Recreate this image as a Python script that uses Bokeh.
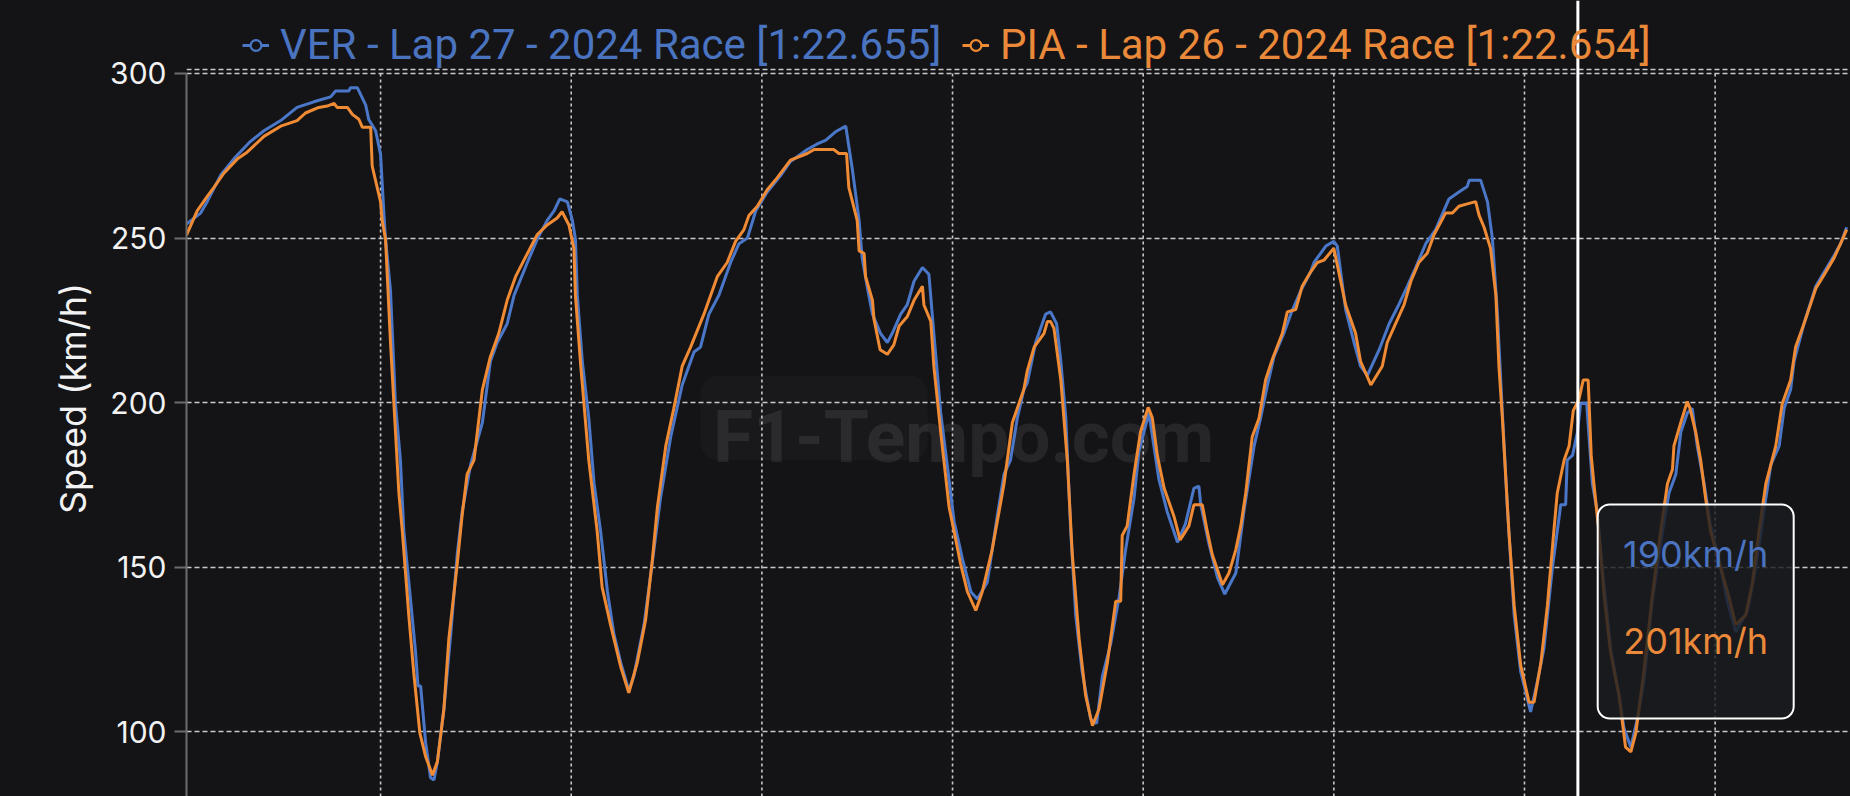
from bokeh.plotting import figure
from bokeh.models import (Range1d, FixedTicker, Span, Label, Legend, LegendItem,
                          BoxAnnotation, ColumnDataSource, Grid)
from bokeh.embed import file_html
from bokeh.resources import INLINE

# ---------------- data ----------------
ver_dist = [-9, 28, 45, 80, 120, 159, 194, 238, 281, 325, 369, 382, 417, 421, 439, 461, 469, 487, 500,
            509, 513, 526, 539, 552, 561, 579, 592, 598, 605, 618, 631, 640, 649, 666, 684, 701, 714,
            736, 767, 788, 806, 832, 850, 885, 911, 937, 955, 970, 990, 1003, 1011, 1016, 1029, 1046,
            1060, 1077, 1095, 1112, 1130, 1151, 1164, 1191, 1217, 1234, 1261, 1291, 1322, 1339, 1361,
            1387, 1418, 1440, 1462, 1484, 1514, 1549, 1575, 1619, 1645, 1667, 1693, 1720, 1737, 1755,
            1763, 1776, 1790, 1811, 1829, 1842, 1864, 1881, 1899, 1921, 1938, 1951, 1969, 1986, 2004,
            2026, 2048, 2065, 2091, 2117, 2135, 2152, 2170, 2187, 2196, 2218, 2244, 2257, 2273, 2284,
            2297, 2310, 2323, 2340, 2362, 2378, 2393, 2415, 2437, 2454, 2476, 2489, 2515, 2541, 2563,
            2590, 2611, 2633, 2646, 2651, 2673, 2695, 2714, 2743, 2764, 2791, 2808, 2826, 2843, 2869,
            2887, 2913, 2939, 2948, 2979, 3000, 3009, 3031, 3053, 3070, 3088, 3119, 3145, 3167, 3193,
            3215, 3241, 3267, 3302, 3328, 3350, 3355, 3385, 3403, 3416, 3429, 3442, 3455, 3473, 3490,
            3516, 3534, 3551, 3573, 3586, 3595, 3608, 3612, 3626, 3639, 3647, 3663, 3678, 3691, 3704,
            3726, 3748, 3761, 3779, 3796, 3813, 3835, 3862, 3879, 3897, 3910, 3927, 3940, 3953, 3971,
            3988, 4015, 4032, 4054, 4085, 4106, 4124, 4146, 4168, 4181, 4198, 4207, 4233, 4264, 4286,
            4312, 4329, 4345]
ver_speed = [254.3, 257.6, 261, 269, 274.7, 279.4, 282.6, 285.7, 289.7, 291.4, 292.9, 294.7, 294.7, 295.7,
             295.7, 290.4, 286, 282.6, 275.4, 256.9, 249.7, 234, 199.7, 182.6, 161, 139.7, 124, 114,
             114, 96.9, 86.1, 85.4, 91, 106.9, 129.7, 154, 166.9, 181.1, 194, 212.6, 218.3, 224,
             232.6, 242.6, 249.7, 255.4, 258.3, 261.9, 261, 255.4, 249.7, 232.6, 212.6, 195.4, 175.4,
             161, 142.6, 129.7, 121, 112.6, 116.9, 132.6, 155.4, 171, 189.7, 205.4, 215.4, 216.9,
             226.9, 232.6, 242.6, 248.3, 250, 258.3, 264, 269, 273.3, 276.9, 278.6, 279.7, 282.3, 284,
             271.1, 255.4, 244, 235.4, 226.9, 221.1, 218.3, 221.1, 226.9, 229.7, 236.9, 241.1, 239,
             221.1, 196.9, 181.1, 164, 152.6, 142.6, 140.4, 145.4, 165.4, 178.3, 182.6, 195.4, 204,
             206, 218.3, 226.9, 227.6, 224, 212.6, 195.4, 161, 135.4, 118.3, 104, 102.6, 116.9, 126.9,
             141.1, 155.4, 171, 185.4, 196.9, 176.9, 166.9, 157.6, 163.3, 174, 174.7, 169, 156.9,
             146.9, 141.9, 148.3, 166.9, 186.9, 195.4, 205.4, 214, 221.1, 226.9, 234, 239.7, 242.6,
             247.6, 249, 247.6, 228.3, 218.3, 211.1, 208.3, 216.1, 224, 229, 235.4, 241.1, 248.3,
             252.6, 261.9, 264, 265.7, 267.6, 267.6, 261, 249.7, 226.9, 196.9, 168.3, 135.4, 118.3,
             106.1, 115.4, 125.4, 149.7, 161, 169, 169, 182.6, 184, 191.1, 199.7, 200, 175.4, 166.9,
             149.7, 125.4, 111.1, 101.1, 95.4, 104, 115.4, 139.7, 161, 172.6, 178.3, 191.1, 196.9,
             198.3, 186.9, 175.4, 162.6, 149.7, 139.7, 130.4, 136.9, 149.7, 164, 181.1, 186.9, 198.3,
             204, 212.6, 224, 235.4, 239.7, 244.7, 248.3, 253.3]

pia_dist = [-9, 19, 45, 63, 89, 124, 150, 194, 238, 281, 303, 338, 360, 378, 386, 413, 426, 443, 452,
            474, 478, 491, 500, 504, 513, 526, 535, 548, 557, 574, 587, 603, 618, 636, 649, 666, 679,
            701, 714, 727, 745, 767, 788, 810, 832, 854, 876, 911, 937, 963, 976, 994, 1007, 1011,
            1025, 1046, 1068, 1081, 1103, 1130, 1151, 1173, 1195, 1213, 1226, 1248, 1269, 1291, 1313,
            1348, 1383, 1409, 1431, 1453, 1466, 1488, 1514, 1540, 1575, 1619, 1637, 1689, 1702, 1722,
            1728, 1750, 1755, 1768, 1772, 1790, 1794, 1810, 1829, 1846, 1860, 1881, 1899, 1921, 1925,
            1943, 1951, 1969, 1991, 2004, 2021, 2039, 2061, 2078, 2104, 2122, 2135, 2157, 2187, 2196,
            2214, 2240, 2249, 2257, 2266, 2284, 2301, 2314, 2332, 2349, 2367, 2384, 2406, 2428, 2441,
            2445, 2458, 2476, 2493, 2513, 2524, 2537, 2555, 2581, 2597, 2620, 2633, 2655, 2668, 2681,
            2708, 2725, 2743, 2756, 2769, 2786, 2804, 2821, 2839, 2865, 2878, 2900, 2917, 2939, 2957,
            2974, 3000, 3031, 3057, 3070, 3097, 3127, 3140, 3162, 3184, 3202, 3223, 3245, 3263, 3293,
            3311, 3328, 3350, 3372, 3381, 3394, 3411, 3425, 3433, 3442, 3459, 3473, 3490, 3512, 3525,
            3543, 3560, 3577, 3586, 3604, 3617, 3628, 3643, 3654, 3667, 3675, 3682, 3695, 3709, 3726,
            3748, 3765, 3779, 3792, 3813, 3835, 3857, 3875, 3888, 3892, 3910, 3927, 3934, 3949, 3962,
            3975, 3988, 4015, 4036, 4054, 4080, 4098, 4115, 4133, 4146, 4159, 4176, 4198, 4211, 4233,
            4264, 4286, 4312, 4329, 4345]
pia_speed = [250.9, 258.3, 262.6, 265.4, 269.7, 274, 276.1, 280.9, 284, 285.7, 288, 289.7, 290.1, 290.9,
             289.7, 289.7, 287.6, 286.1, 283.7, 283.7, 271.9, 265.4, 261, 255.4, 249.7, 218.3, 199.7,
             172.6, 161, 135.4, 118, 99.7, 92.6, 86.9, 91, 106.9, 128.3, 151, 166, 178.3, 182.6, 204,
             214, 221.1, 231.1, 238.3, 243.3, 251.1, 254, 256.1, 258, 254, 246.9, 232.6, 211.1, 182.6,
             161, 144, 132.6, 119.7, 111.9, 121, 134, 152.6, 168.3, 186.9, 198.3, 211.1, 216.9, 226.9,
             238.3, 242.6, 249, 252.6, 256.9, 259.7, 264.7, 268.3, 273.7, 275.7, 276.9, 276.9, 275.7,
             275.7, 265.4, 255.4, 246.1, 245.4, 238.3, 231.1, 225.4, 216.1, 214.7, 217.6, 223.3, 226.1,
             231.1, 235.4, 229.7, 224.7, 211.1, 191.1, 168.3, 161, 151.1, 142.6, 136.9, 142.6, 155.4,
             166.9, 175.4, 194, 204, 209.7, 216.9, 221.1, 224.7, 224.7, 222.6, 206.9, 182.6, 154, 128.3,
             111.1, 101.9, 106.9, 121, 139.7, 139.7, 159.7, 162.6, 178.3, 191.1, 198.6, 195.4, 184, 174,
             165.4, 158.3, 162.6, 169, 169, 161, 154, 144.7, 148.3, 155.4, 162.6, 172.6, 189.7, 195.4,
             206.9, 213.3, 221.1, 227.6, 228.3, 235.4, 239.7, 242.6, 243.3, 246.9, 229.7, 221.1, 212.6,
             205.4, 211.1, 218.3, 224, 229.7, 236.9, 242.6, 245.4, 251.1, 257.6, 257.6, 259.7, 260.4,
             261.1, 256.9, 253.3, 246.9, 232.6, 211.1, 195.4, 161, 138.3, 120.3, 109, 109, 121, 138.3,
             161, 172.6, 182.6, 186.9, 197.6, 201.1, 206.9, 206.9, 184, 175.4, 161, 141.1, 124, 111.1,
             95.4, 94, 99.7, 118.3, 141.1, 161, 175.4, 179.7, 186.9, 194, 200.4, 198.3, 191.1, 182.6,
             171, 161, 149.7, 141.1, 132.6, 135.4, 145.4, 161, 175.4, 181.1, 186.9, 199.7, 206.9, 216.9,
             224, 234.7, 238.9, 244, 248.3, 252.6]

y_ticks = [100, 150, 200, 250, 300]
x_grid_ticks = [500, 1000, 1500, 2000, 2500, 3000, 3500, 4000]
legend_labels = ["VER - Lap 27 - 2024 Race [1:22.655]", "PIA - Lap 26 - 2024 Race [1:22.654]"]
cursor_distance = 3640
tooltip_values = ["190km/h", "201km/h"]
axis_title = "Speed (km/h)"
watermark = "F1-Tempo.com"

# ---------------- style ----------------
BG = "#141417"
BLUE = "#4b77c8"
ORANGE = "#f08b35"
BLUE_TXT = "#4a73c0"
ORANGE_TXT = "#ea8939"
GRID = "#c8c8c8"

Y_TOP = 300
X0, X1 = -9, 4355
Y0, Y1 = 80.41, 322.17   # frame covers the whole canvas; 300 sits 73px below the top

p = figure(width=1850, height=796, output_backend="svg", toolbar_location=None,
           x_range=Range1d(X0, X1), y_range=Range1d(Y0, Y1), x_axis_location=None,
           min_border_left=186, min_border_right=0, min_border_top=0, min_border_bottom=0,
           background_fill_color=BG, border_fill_color=BG)
p.outline_line_color = None

# grids: horizontal full width, vertical only inside the chart area (below 300)
p.center = [r for r in p.center if not isinstance(r, Grid)]
p.add_layout(Grid(dimension=1, ticker=FixedTicker(ticks=y_ticks), grid_line_color=GRID,
                  grid_line_width=1.6, grid_line_dash="5 3"), "center")
n = len(x_grid_ticks)
p.segment(x0=x_grid_ticks, y0=[Y0] * n, x1=x_grid_ticks, y1=[Y_TOP] * n,
          line_color=GRID, line_width=1.6, line_dash="3 3", level="underlay")
p.add_layout(Span(location=Y_TOP + 1.2, dimension="width", line_color=GRID, line_width=1.6,
                  line_dash="5 3"))

ax = p.yaxis[0]
ax.ticker = FixedTicker(ticks=y_ticks)
ax.bounds = (Y0, Y_TOP)
ax.axis_line_color = "#6c6c6c"
ax.axis_line_width = 2
ax.major_tick_line_color = "#6c6c6c"
ax.major_tick_line_width = 2
ax.major_tick_out = 12
ax.major_tick_in = 0
ax.minor_tick_line_color = None
ax.major_label_standoff = 8
ax.major_label_text_color = "#f2f2f2"
ax.major_label_text_font = "Inter"
ax.major_label_text_font_size = "30px"
ax.axis_label = axis_title
ax.axis_label_text_color = "#f2f2f2"
ax.axis_label_text_font = "Inter"
ax.axis_label_text_font_style = "normal"
ax.axis_label_text_font_size = "36px"
ax.axis_label_standoff = 12

src_v = ColumnDataSource(dict(x=ver_dist, y=ver_speed))
src_p = ColumnDataSource(dict(x=pia_dist, y=pia_speed))
lv = p.line("x", "y", source=src_v, line_color=BLUE, line_width=3)
lp = p.line("x", "y", source=src_p, line_color=ORANGE, line_width=3)
# point markers exist only for the legend symbol (hidden on the chart, like the original)
mv = p.scatter("x", "y", source=src_v, marker="circle", size=10, fill_color=BG,
               line_color=BLUE, line_width=2.2, visible=False)
mp = p.scatter("x", "y", source=src_p, marker="circle", size=10, fill_color=BG,
               line_color=ORANGE, line_width=2.2, visible=False)

# watermark
p.add_layout(BoxAnnotation(left=1339, right=1935, top=208.3, bottom=182.5, fill_color="#ffffff",
                           fill_alpha=0.025, line_alpha=0, border_radius=18, level="underlay"))
p.add_layout(Label(x=2029, y=189.7, text=watermark, text_align="center", text_baseline="alphabetic",
                   text_font="Roboto", text_font_style="bold", text_font_size="73px",
                   text_color="#ffffff", text_alpha=0.08, level="underlay"))

# cursor
p.add_layout(Span(location=cursor_distance, dimension="height", line_color="#ffffff", line_width=3))

# tooltip
p.add_layout(BoxAnnotation(left=3692, right=4206, top=169.1, bottom=104.1, fill_color="#1b1c20",
                           fill_alpha=0.82, line_color="#ffffff", line_alpha=1.0, line_width=2,
                           border_radius=12))
p.add_layout(Label(x=3949, y=154, text=tooltip_values[0], text_align="center", text_baseline="middle",
                   text_font="Inter", text_font_size="36px", text_color=BLUE_TXT))
p.add_layout(Label(x=3949, y=127.6, text=tooltip_values[1], text_align="center", text_baseline="middle",
                   text_font="Inter", text_font_size="36px", text_color=ORANGE_TXT))

# legends (top strip, inside the canvas-wide frame)
def make_legend(label, rends, color, xpos):
    lg = Legend(items=[LegendItem(label=label, renderers=rends)], location=(xpos, 727),
                orientation="horizontal", padding=0, margin=0, spacing=0,
                border_line_color=None, background_fill_alpha=0,
                glyph_width=27, glyph_height=46, label_standoff=11,
                label_text_font="Roboto", label_text_font_size="42px",
                label_text_color=color)
    p.add_layout(lg)

make_legend(legend_labels[0], [lv, mv], BLUE_TXT, 56)
make_legend(legend_labels[1], [lp, mp], ORANGE_TXT, 776)

html = file_html(p, INLINE, title="Speed")
html = html.replace("</head>", "<style>html,body{background:#141417;}</style></head>", 1)
open("out.html", "w").write(html)
